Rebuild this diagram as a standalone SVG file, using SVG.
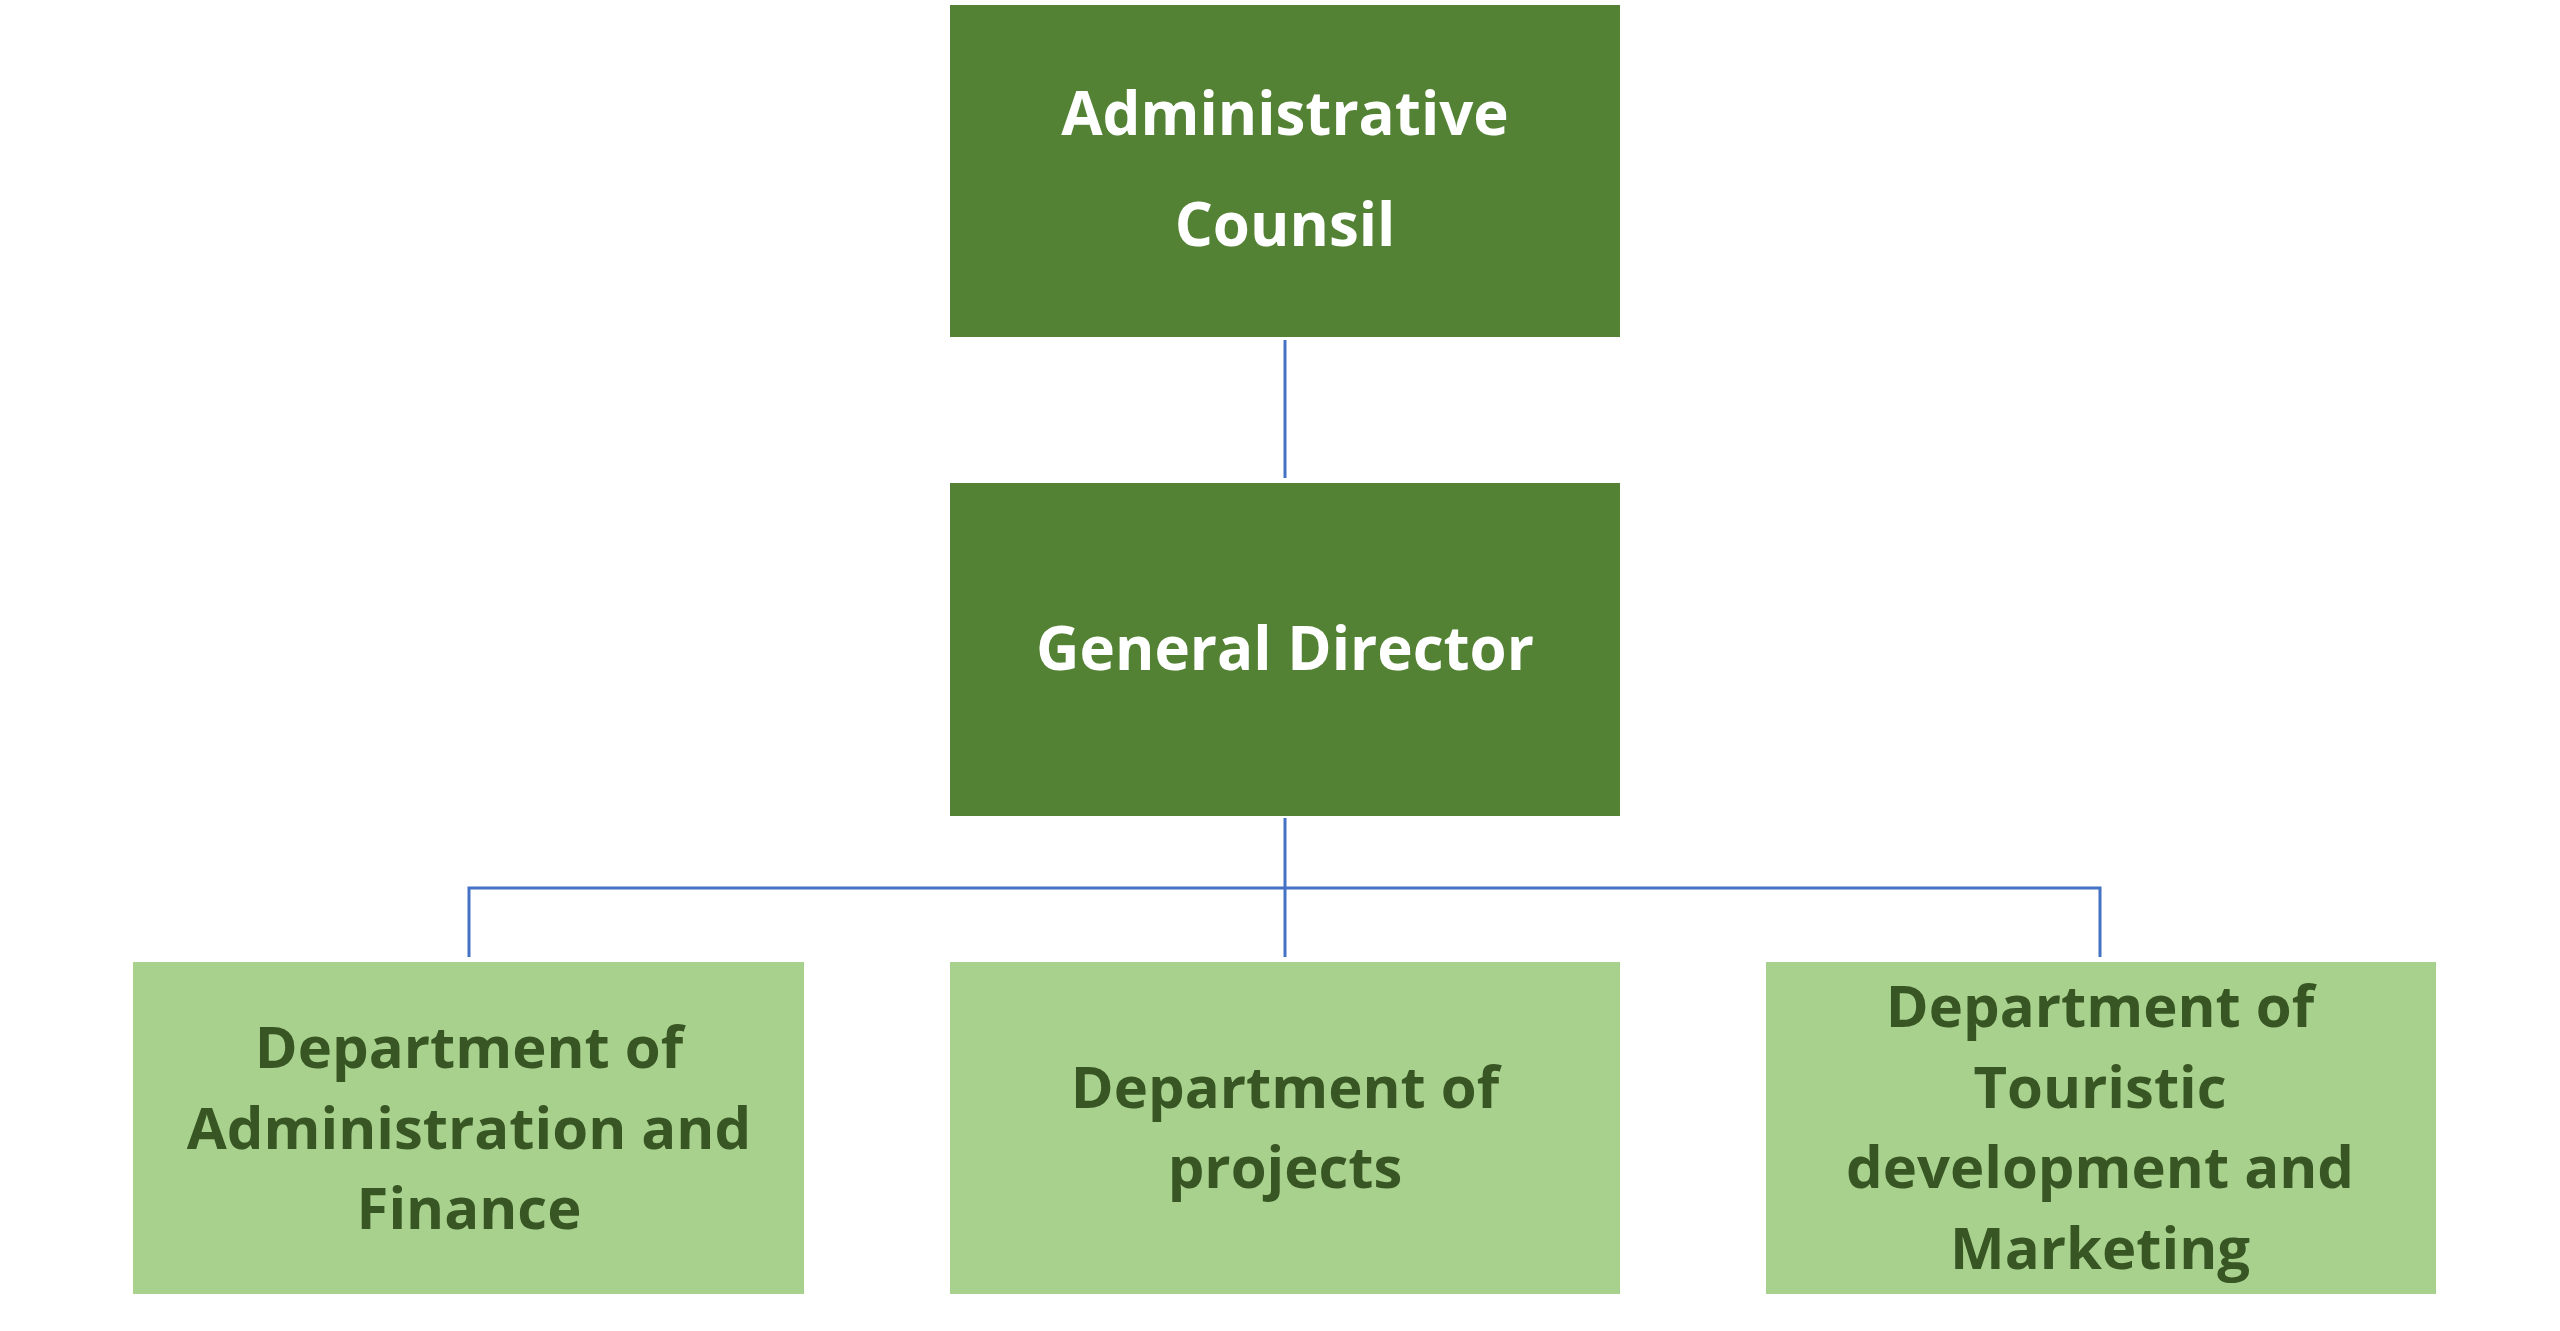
<svg xmlns="http://www.w3.org/2000/svg" width="2560" height="1331" viewBox="0 0 2560 1331">
<style>
.dk{fill:#548235}
.lt{fill:#A9D18E}
text{font-family:"Open Sans","Liberation Sans",sans-serif;font-weight:bold;text-anchor:middle;dominant-baseline:central}
.w{fill:#fff;font-size:60px}
.g{fill:#375623;font-size:58px}
.c{stroke:#4472C4;stroke-width:3;fill:none}
</style>
<rect width="2560" height="1331" fill="#fff"/>
<g id="connectors">
<line class="c" x1="1285" y1="340" x2="1285" y2="478"/>
<polyline class="c" points="1285,818 1285,888"/>
<polyline class="c" points="469,957 469,888 2100,888 2100,957"/>
<line class="c" x1="1285" y1="888" x2="1285" y2="957"/>
</g>
<g id="n1"><rect class="dk" x="950" y="5" width="670" height="332"/><text class="w" x="1285" y="112">Administrative</text><text class="w" x="1285" y="223">Counsil</text></g>
<g id="n2"><rect class="dk" x="950" y="483" width="670" height="333"/><text class="w" x="1285" y="647">General Director</text></g>
<g id="n3"><rect class="lt" x="133" y="962" width="671" height="332"/><text class="g" x="469" y="1045">Department of</text><text class="g" x="469" y="1126">Administration and</text><text class="g" x="469" y="1206">Finance</text></g>
<g id="n4"><rect class="lt" x="950" y="962" width="670" height="332"/><text class="g" x="1285" y="1085">Department of</text><text class="g" x="1285" y="1165">projects</text></g>
<g id="n5"><rect class="lt" x="1766" y="962" width="670" height="332"/><text class="g" x="2100" y="1004">Department of</text><text class="g" x="2100" y="1085">Touristic</text><text class="g" x="2100" y="1165">development and</text><text class="g" x="2100" y="1246">Marketing</text></g>
</svg>
